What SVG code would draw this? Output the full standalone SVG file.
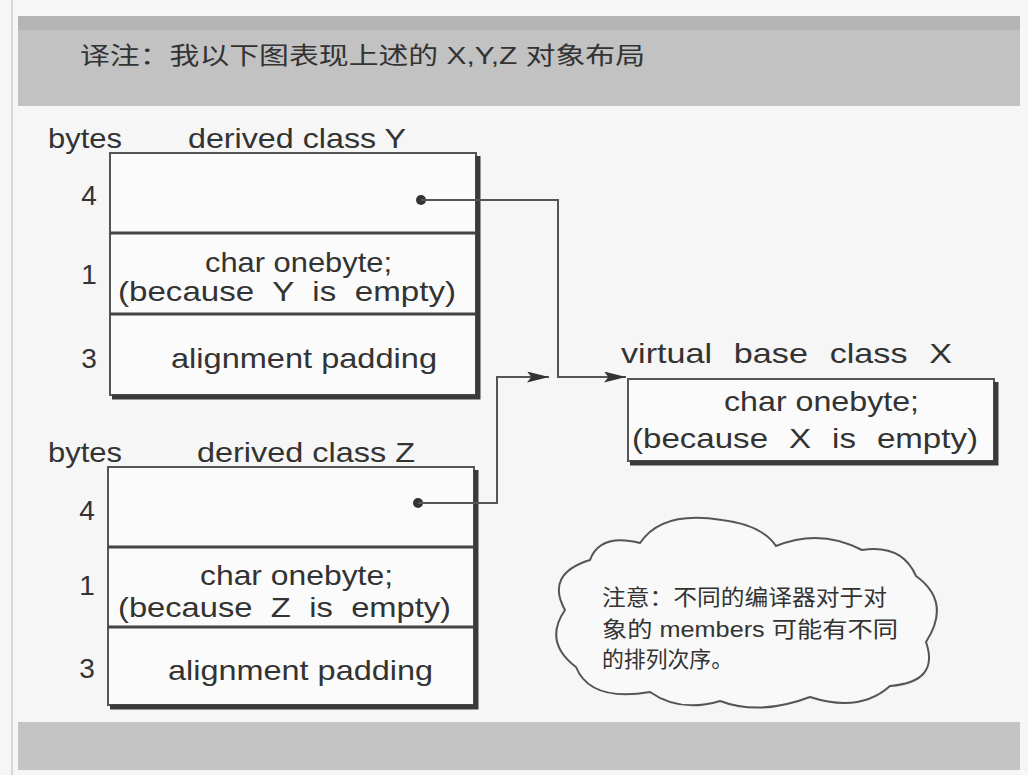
<svg xmlns="http://www.w3.org/2000/svg" width="1028" height="775" viewBox="0 0 1028 775">
<style>
.t{font-family:"Liberation Sans",Arial,sans-serif;font-size:28px;fill:#333}
.n{font-family:"Liberation Sans",Arial,sans-serif;font-size:28px;fill:#333;text-anchor:middle}
.cjk{font-family:"Liberation Sans","Noto Sans CJK SC",sans-serif;fill:#333}
.box{fill:#fbfbfb;stroke:#555;stroke-width:2}
.sh{stroke:#3a3a3a;stroke-width:5;fill:none}
.div{stroke:#444;stroke-width:3}
.con{stroke:#555;stroke-width:2;fill:none}
</style>
<defs>
<marker id="arr" viewBox="0 0 20 10" refX="20" refY="5" markerWidth="22" markerHeight="11" markerUnits="userSpaceOnUse" orient="auto">
<path d="M0,0 L20,5 L0,10 L4,5 Z" fill="#333"/>
</marker>
</defs>
<rect x="0" y="0" width="1028" height="775" fill="#f6f6f6"/>
<line x1="12" y1="0" x2="12" y2="775" stroke="#d8d8d8" stroke-width="2"/>
<g id="header">
<rect x="18" y="16" width="1002" height="90" fill="#c2c2c2"/>
<rect x="18" y="16" width="1002" height="14" fill="#b4b4b4"/>
<text class="cjk" x="80" y="64" font-size="24" textLength="565" lengthAdjust="spacingAndGlyphs">译注：我以下图表现上述的 X,Y,Z 对象布局</text>
</g>
<g id="footer">
<rect x="18" y="722" width="1002" height="48" fill="#c4c4c4"/>
</g>
<g id="classY">
<text class="t" x="48" y="148" textLength="74" lengthAdjust="spacingAndGlyphs">bytes</text>
<text class="t" x="188" y="148" textLength="218" lengthAdjust="spacingAndGlyphs">derived class Y</text>
<rect class="box" x="110" y="153" width="366" height="242"/>
<polyline class="sh" points="478,156 478,397 112,397"/>
<line class="div" x1="110" y1="233" x2="476" y2="233"/>
<line class="div" x1="110" y1="314" x2="476" y2="314"/>
<text class="n" x="89" y="205">4</text>
<text class="n" x="89" y="284">1</text>
<text class="n" x="89" y="368">3</text>
<circle cx="421" cy="200" r="5" fill="#333"/>
<text class="t" x="205" y="272" textLength="187" lengthAdjust="spacingAndGlyphs">char onebyte;</text>
<text class="t" x="118" y="301" word-spacing="8" textLength="338" lengthAdjust="spacingAndGlyphs">(because Y is empty)</text>
<text class="t" x="171" y="368" textLength="266" lengthAdjust="spacingAndGlyphs">alignment padding</text>
</g>
<g id="classZ">
<text class="t" x="48" y="462" textLength="74" lengthAdjust="spacingAndGlyphs">bytes</text>
<text class="t" x="197" y="462" textLength="218" lengthAdjust="spacingAndGlyphs">derived class Z</text>
<rect class="box" x="108" y="467" width="366" height="238"/>
<polyline class="sh" points="476,470 476,707 110,707"/>
<line class="div" x1="108" y1="547" x2="474" y2="547"/>
<line class="div" x1="108" y1="627" x2="474" y2="627"/>
<text class="n" x="87" y="520">4</text>
<text class="n" x="87" y="595">1</text>
<text class="n" x="87" y="678">3</text>
<circle cx="418" cy="503" r="5" fill="#333"/>
<text class="t" x="200" y="585" textLength="193" lengthAdjust="spacingAndGlyphs">char onebyte;</text>
<text class="t" x="118" y="617" word-spacing="8" textLength="333" lengthAdjust="spacingAndGlyphs">(because Z is empty)</text>
<text class="t" x="168" y="680" textLength="265" lengthAdjust="spacingAndGlyphs">alignment padding</text>
</g>
<g id="classX">
<text class="t" x="621" y="363" word-spacing="10" textLength="331" lengthAdjust="spacingAndGlyphs">virtual base class X</text>
<rect class="box" x="628" y="379" width="366" height="82"/>
<polyline class="sh" points="996,382 996,463 630,463"/>
<text class="t" x="724" y="411" textLength="195" lengthAdjust="spacingAndGlyphs">char onebyte;</text>
<text class="t" x="632" y="448" word-spacing="10" textLength="346" lengthAdjust="spacingAndGlyphs">(because X is empty)</text>
</g>
<g id="note">
<path d="M590,560 Q600,533 640,543 Q662,510 722,520 Q762,525 776,546 Q820,528 862,550 Q902,544 916,576 Q952,602 926,642 Q940,682 890,686 Q860,713 810,697 Q760,716 720,701 Q680,713 650,692 Q590,702 576,667 Q543,642 565,610 Q545,574 590,560 Z" fill="#f9f9f9" stroke="#555" stroke-width="2"/>
<text class="cjk" x="602" y="605" font-size="22" textLength="285" lengthAdjust="spacingAndGlyphs">注意：不同的编译器对于对</text>
<text class="cjk" x="602" y="637" font-size="22" textLength="296" lengthAdjust="spacingAndGlyphs">象的 members 可能有不同</text>
<text class="cjk" x="602" y="667" font-size="22" textLength="131" lengthAdjust="spacingAndGlyphs">的排列次序。</text>
</g>
<g id="connectors">
<polyline class="con" points="421,200 558,200 558,377 626,377" marker-end="url(#arr)"/>
<polyline class="con" points="418,503 497,503 497,377 549,377" marker-end="url(#arr)"/>
</g>
</svg>
